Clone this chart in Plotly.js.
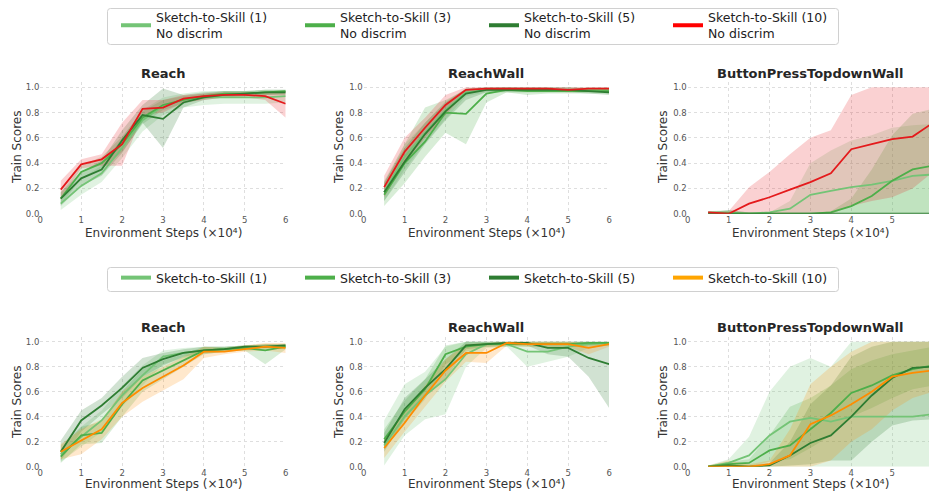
<!DOCTYPE html>
<html>
<head>
<meta charset="utf-8">
<script src="https://cdn.plot.ly/plotly-3.0.1.min.js"></script>
<style>html,body{margin:0;padding:0;background:#fff;}#chart{width:929px;height:491px;}</style>
</head>
<body>
<div id="chart"></div>
<script>
// ---------------- DATA ----------------
const steps = [0.5, 1, 1.5, 2, 2.5, 3, 3.5, 4, 4.5, 5, 5.5, 6];
const xTicks = [0, 1, 2, 3, 4, 5, 6];
const yTicks = [0.0, 0.2, 0.4, 0.6, 0.8, 1.0];
const panelTitles = ["Reach", "ReachWall", "ButtonPressTopdownWall", "Reach", "ReachWall", "ButtonPressTopdownWall"];
const topNames = ["Sketch-to-Skill (1)<br>No discrim", "Sketch-to-Skill (3)<br>No discrim", "Sketch-to-Skill (5)<br>No discrim", "Sketch-to-Skill (10)<br>No discrim"];
const bottomNames = ["Sketch-to-Skill (1)", "Sketch-to-Skill (3)", "Sketch-to-Skill (5)", "Sketch-to-Skill (10)"];
const xTitle = "Environment Steps (×10⁴)";
const yTitle = "Train Scores";

// Top row: Reach
const tReach_1    = [0.08,0.22,0.32,0.52,0.74,0.85,0.90,0.92,0.92,0.92,0.92,0.93];
const tReach_1_lo = [0.03,0.15,0.25,0.44,0.65,0.78,0.84,0.86,0.87,0.87,0.87,0.88];
const tReach_1_hi = [0.13,0.28,0.38,0.60,0.82,0.92,0.95,0.97,0.97,0.97,0.97,0.97];
const tReach_3    = [0.12,0.33,0.40,0.55,0.76,0.86,0.90,0.93,0.95,0.95,0.96,0.97];
const tReach_3_lo = [0.07,0.28,0.35,0.49,0.71,0.82,0.87,0.91,0.93,0.93,0.94,0.95];
const tReach_3_hi = [0.17,0.38,0.45,0.61,0.81,0.90,0.93,0.95,0.97,0.97,0.98,0.98];
const tReach_5    = [0.12,0.28,0.35,0.58,0.78,0.75,0.88,0.92,0.94,0.95,0.96,0.96];
const tReach_5_lo = [0.06,0.22,0.30,0.48,0.72,0.52,0.84,0.90,0.92,0.93,0.94,0.94];
const tReach_5_hi = [0.17,0.33,0.42,0.66,0.86,0.99,0.94,0.96,0.97,0.97,0.98,0.98];
const tReach_10    = [0.19,0.39,0.43,0.55,0.83,0.84,0.91,0.93,0.94,0.94,0.93,0.87];
const tReach_10_lo = [0.11,0.36,0.38,0.38,0.78,0.80,0.88,0.90,0.92,0.92,0.90,0.76];
const tReach_10_hi = [0.26,0.43,0.47,0.72,0.90,0.90,0.94,0.95,0.96,0.96,0.96,0.97];

// Top row: ReachWall
const tWall_1    = [0.17,0.45,0.64,0.82,0.96,0.98,0.98,0.98,0.98,0.98,0.98,0.98];
const tWall_1_lo = [0.10,0.35,0.56,0.75,0.93,0.96,0.96,0.96,0.96,0.96,0.96,0.96];
const tWall_1_hi = [0.26,0.55,0.72,0.89,0.99,1.00,1.00,1.00,1.00,1.00,1.00,1.00];
const tWall_3    = [0.15,0.40,0.57,0.80,0.79,0.95,0.98,0.97,0.97,0.97,0.97,0.97];
const tWall_3_lo = [0.06,0.24,0.45,0.64,0.55,0.88,0.96,0.94,0.95,0.95,0.95,0.95];
const tWall_3_hi = [0.24,0.55,0.84,0.90,0.98,0.99,1.00,0.99,0.99,0.99,0.99,0.99];
const tWall_5    = [0.17,0.41,0.63,0.81,0.95,0.98,0.98,0.98,0.98,0.98,0.97,0.96];
const tWall_5_lo = [0.10,0.32,0.55,0.74,0.90,0.96,0.96,0.96,0.96,0.96,0.95,0.94];
const tWall_5_hi = [0.25,0.52,0.72,0.88,0.99,1.00,1.00,1.00,1.00,1.00,0.99,0.98];
const tWall_10    = [0.21,0.49,0.68,0.86,0.98,0.99,0.99,0.99,0.99,0.98,0.99,0.99];
const tWall_10_lo = [0.13,0.40,0.60,0.78,0.96,0.97,0.97,0.97,0.97,0.96,0.97,0.97];
const tWall_10_hi = [0.30,0.60,0.76,0.94,1.00,1.00,1.00,1.00,1.00,1.00,1.00,1.00];

// Top row: ButtonPressTopdownWall
const tButton_1    = [0.01,0.01,0.00,0.01,0.04,0.15,0.18,0.21,0.23,0.26,0.30,0.31];
const tButton_1_lo = [0.00,0.00,0.00,0.00,0.00,0.00,0.00,0.00,0.00,0.00,0.00,0.00];
const tButton_1_hi = [0.02,0.03,0.01,0.01,0.10,0.40,0.50,0.58,0.62,0.68,0.70,0.71];
const tButton_3    = [0.00,0.00,0.00,0.00,0.00,0.00,0.01,0.06,0.14,0.26,0.35,0.38];
const tButton_3_lo = [0.00,0.00,0.00,0.00,0.00,0.00,0.00,0.00,0.00,0.00,0.00,0.00];
const tButton_3_hi = [0.01,0.01,0.00,0.00,0.00,0.00,0.02,0.12,0.35,0.62,0.79,0.83];
const tButton_5    = [0.00,0.00,0.00,0.00,0.00,0.00,0.00,0.00,0.00,0.00,0.00,0.00];
const tButton_5_lo = [0.00,0.00,0.00,0.00,0.00,0.00,0.00,0.00,0.00,0.00,0.00,0.00];
const tButton_5_hi = [0.01,0.03,0.01,0.00,0.00,0.00,0.00,0.00,0.00,0.00,0.00,0.00];
const tButton_10    = [0.01,0.00,0.08,0.13,0.19,0.25,0.32,0.51,0.55,0.59,0.61,0.72];
const tButton_10_lo = [0.00,0.00,0.00,0.00,0.00,0.00,0.00,0.06,0.10,0.13,0.20,0.33];
const tButton_10_hi = [0.02,0.02,0.21,0.33,0.47,0.60,0.66,0.94,1.00,1.00,1.00,1.00];

// Bottom row: Reach
const bReach_1    = [0.10,0.24,0.37,0.57,0.73,0.88,0.91,0.93,0.94,0.95,0.96,0.96];
const bReach_1_lo = [0.04,0.16,0.28,0.48,0.65,0.82,0.87,0.90,0.92,0.93,0.94,0.94];
const bReach_1_hi = [0.17,0.32,0.45,0.65,0.81,0.93,0.95,0.96,0.96,0.97,0.98,0.98];
const bReach_3    = [0.08,0.25,0.27,0.50,0.69,0.77,0.85,0.93,0.94,0.95,0.93,0.96];
const bReach_3_lo = [0.03,0.18,0.19,0.40,0.60,0.70,0.80,0.90,0.92,0.93,0.82,0.94];
const bReach_3_hi = [0.14,0.32,0.36,0.60,0.78,0.85,0.90,0.96,0.96,0.97,0.98,0.98];
const bReach_5    = [0.12,0.37,0.49,0.63,0.79,0.86,0.91,0.93,0.94,0.96,0.96,0.97];
const bReach_5_lo = [0.05,0.28,0.42,0.55,0.72,0.81,0.88,0.91,0.92,0.94,0.95,0.96];
const bReach_5_hi = [0.21,0.45,0.55,0.72,0.87,0.91,0.94,0.96,0.96,0.97,0.98,0.98];
const bReach_10    = [0.12,0.21,0.30,0.51,0.63,0.72,0.81,0.92,0.92,0.94,0.96,0.95];
const bReach_10_lo = [0.06,0.10,0.22,0.40,0.52,0.61,0.70,0.87,0.90,0.92,0.93,0.91];
const bReach_10_hi = [0.18,0.30,0.38,0.60,0.72,0.80,0.88,0.96,0.95,0.97,0.99,0.99];

// Bottom row: ReachWall
const bWall_1    = [0.17,0.40,0.57,0.70,0.90,0.98,0.98,0.92,0.92,0.96,0.98,0.99];
const bWall_1_lo = [0.01,0.25,0.38,0.42,0.80,0.95,0.96,0.80,0.84,0.88,0.95,0.97];
const bWall_1_hi = [0.37,0.66,0.76,0.96,1.00,1.00,1.00,1.00,1.00,1.00,1.00,1.00];
const bWall_3    = [0.22,0.44,0.62,0.90,0.96,0.98,0.98,0.98,0.98,0.98,0.99,0.99];
const bWall_3_lo = [0.14,0.35,0.54,0.82,0.92,0.96,0.96,0.96,0.96,0.96,0.97,0.97];
const bWall_3_hi = [0.30,0.53,0.70,0.97,1.00,1.00,1.00,1.00,1.00,1.00,1.00,1.00];
const bWall_5    = [0.19,0.46,0.63,0.78,0.97,0.98,0.99,0.99,0.95,0.95,0.87,0.82];
const bWall_5_lo = [0.12,0.38,0.56,0.70,0.94,0.96,0.97,0.97,0.90,0.88,0.72,0.47];
const bWall_5_hi = [0.27,0.55,0.70,0.86,1.00,1.00,1.00,1.00,1.00,1.00,1.00,1.00];
const bWall_10    = [0.15,0.35,0.57,0.77,0.91,0.91,0.99,0.98,0.98,0.98,0.95,0.98];
const bWall_10_lo = [0.07,0.28,0.48,0.68,0.84,0.83,0.97,0.96,0.96,0.96,0.90,0.96];
const bWall_10_hi = [0.22,0.43,0.65,0.86,0.98,0.99,1.00,1.00,1.00,1.00,0.99,1.00];

// Bottom row: ButtonPressTopdownWall
const bButton_1    = [0.00,0.03,0.09,0.25,0.36,0.39,0.36,0.40,0.40,0.40,0.40,0.42];
const bButton_1_lo = [0.00,0.00,0.00,0.00,0.00,0.00,0.00,0.00,0.00,0.00,0.00,0.00];
const bButton_1_hi = [0.01,0.06,0.24,0.60,0.80,0.87,0.80,1.00,1.00,1.00,1.00,1.00];
const bButton_3    = [0.00,0.02,0.03,0.13,0.17,0.30,0.43,0.59,0.65,0.73,0.78,0.81];
const bButton_3_lo = [0.00,0.00,0.00,0.04,0.06,0.15,0.25,0.40,0.47,0.55,0.62,0.65];
const bButton_3_hi = [0.01,0.04,0.06,0.25,0.48,0.55,0.65,0.78,0.85,0.90,0.93,0.96];
const bButton_5    = [0.00,0.01,0.00,0.01,0.09,0.19,0.25,0.40,0.57,0.71,0.79,0.80];
const bButton_5_lo = [0.00,0.00,0.00,0.00,0.01,0.02,0.05,0.05,0.20,0.33,0.37,0.38];
const bButton_5_hi = [0.01,0.02,0.01,0.03,0.20,0.50,0.65,0.88,0.96,1.00,1.00,1.00];
const bButton_10    = [0.00,0.00,0.00,0.02,0.09,0.34,0.41,0.50,0.60,0.72,0.75,0.77];
const bButton_10_lo = [0.00,0.00,0.00,0.00,0.00,0.00,0.05,0.20,0.30,0.45,0.55,0.60];
const bButton_10_hi = [0.01,0.05,0.02,0.05,0.30,0.66,0.80,0.92,1.00,1.00,1.00,1.00];

// ---------------- STYLE / BUILD ----------------
const W = 929, H = 491;
const lineColors = ["#74c476", "#4daf4a", "#2e7d32"];
const bandColors = ["rgba(116,196,118,0.22)", "rgba(77,175,74,0.22)", "rgba(46,125,50,0.22)"];
const topLast = {line: "#e41a1c", band: "rgba(228,26,28,0.2)", legend: "#ff0000"};
const botLast = {line: "#ff8c00", band: "rgba(255,140,0,0.2)", legend: "#ffa500"};

const panels = [
  {xa: "x",  ya: "y",  row: 0, series: [[tReach_1,tReach_1_lo,tReach_1_hi],[tReach_3,tReach_3_lo,tReach_3_hi],[tReach_5,tReach_5_lo,tReach_5_hi],[tReach_10,tReach_10_lo,tReach_10_hi]]},
  {xa: "x2", ya: "y2", row: 0, series: [[tWall_1,tWall_1_lo,tWall_1_hi],[tWall_3,tWall_3_lo,tWall_3_hi],[tWall_5,tWall_5_lo,tWall_5_hi],[tWall_10,tWall_10_lo,tWall_10_hi]]},
  {xa: "x3", ya: "y3", row: 0, series: [[tButton_1,tButton_1_lo,tButton_1_hi],[tButton_3,tButton_3_lo,tButton_3_hi],[tButton_5,tButton_5_lo,tButton_5_hi],[tButton_10,tButton_10_lo,tButton_10_hi]]},
  {xa: "x4", ya: "y4", row: 1, series: [[bReach_1,bReach_1_lo,bReach_1_hi],[bReach_3,bReach_3_lo,bReach_3_hi],[bReach_5,bReach_5_lo,bReach_5_hi],[bReach_10,bReach_10_lo,bReach_10_hi]]},
  {xa: "x5", ya: "y5", row: 1, series: [[bWall_1,bWall_1_lo,bWall_1_hi],[bWall_3,bWall_3_lo,bWall_3_hi],[bWall_5,bWall_5_lo,bWall_5_hi],[bWall_10,bWall_10_lo,bWall_10_hi]]},
  {xa: "x6", ya: "y6", row: 1, series: [[bButton_1,bButton_1_lo,bButton_1_hi],[bButton_3,bButton_3_lo,bButton_3_hi],[bButton_5,bButton_5_lo,bButton_5_hi],[bButton_10,bButton_10_lo,bButton_10_hi]]}
];

const traces = [];
panels.forEach(p => {
  const last = p.row === 0 ? topLast : botLast;
  p.series.forEach((s, i) => {
    const band = i < 3 ? bandColors[i] : last.band;
    traces.push({x: steps, y: s[1], xaxis: p.xa, yaxis: p.ya, mode: "lines", line: {width: 0, color: band}, showlegend: false, hoverinfo: "skip"});
    traces.push({x: steps, y: s[2], xaxis: p.xa, yaxis: p.ya, mode: "lines", line: {width: 0, color: band}, fill: "tonexty", fillcolor: band, showlegend: false, hoverinfo: "skip"});
  });
  p.series.forEach((s, i) => {
    const col = i < 3 ? lineColors[i] : last.line;
    traces.push({x: steps, y: s[0], xaxis: p.xa, yaxis: p.ya, mode: "lines", line: {width: 1.8, color: col}, showlegend: false});
  });
});
// legend entries
topNames.forEach((n, i) => {
  traces.push({x: [null], y: [null], xaxis: "x", yaxis: "y", mode: "lines", name: n, legend: "legend",
    line: {width: 4, color: i < 3 ? lineColors[i] : topLast.legend}, hoverinfo: "skip"});
});
bottomNames.forEach((n, i) => {
  traces.push({x: [null], y: [null], xaxis: "x4", yaxis: "y4", mode: "lines", name: n, legend: "legend2",
    line: {width: 4, color: i < 3 ? lineColors[i] : botLast.legend}, hoverinfo: "skip"});
});

// geometry (pixels)
const colX0 = [40.3, 363.7, 687.7];
const pxPerUnit = 40.9;
const rowY = [{zero: 213.7, one: 87.3}, {zero: 466.7, one: 341.7}];
const yMax = 1.04;

function roundRectPath(x0, y0, x1, y1, r) {
  const fx = v => (v / W).toFixed(5), fy = v => (1 - v / H).toFixed(5);
  return "M" + fx(x0 + r) + "," + fy(y0) +
    " L" + fx(x1 - r) + "," + fy(y0) + " Q" + fx(x1) + "," + fy(y0) + " " + fx(x1) + "," + fy(y0 + r) +
    " L" + fx(x1) + "," + fy(y1 - r) + " Q" + fx(x1) + "," + fy(y1) + " " + fx(x1 - r) + "," + fy(y1) +
    " L" + fx(x0 + r) + "," + fy(y1) + " Q" + fx(x0) + "," + fy(y1) + " " + fx(x0) + "," + fy(y1 - r) +
    " L" + fx(x0) + "," + fy(y0 + r) + " Q" + fx(x0) + "," + fy(y0) + " " + fx(x0 + r) + "," + fy(y0) + " Z";
}

const font = "DejaVu Sans, Liberation Sans, sans-serif";
const legendCommon = {orientation: "h", xanchor: "left", yanchor: "top", traceorder: "normal",
  borderwidth: 0, bgcolor: "rgba(0,0,0,0)",
  font: {family: font, size: 12.5, color: "#222"}, entrywidth: 139, entrywidthmode: "pixels"};
const layout = {
  width: W, height: H,
  margin: {l: 0, r: 0, t: 0, b: 0},
  paper_bgcolor: "#fff", plot_bgcolor: "#fff",
  font: {family: font, color: "#333"},
  showlegend: true,
  legend: Object.assign({}, legendCommon, {x: 116 / W, y: 1 - 2.5 / H}),
  legend2: Object.assign({}, legendCommon, {x: 116 / W, y: 1 - 263 / H}),
  shapes: [
    {type: "path", xref: "paper", yref: "paper", path: roundRectPath(107.5, 8.5, 838.5, 44.5, 3), line: {color: "#d0d0d0", width: 1}, layer: "below"},
    {type: "path", xref: "paper", yref: "paper", path: roundRectPath(107.5, 267.5, 838.5, 291.5, 3), line: {color: "#d0d0d0", width: 1}, layer: "below"}
  ],
  annotations: [],
  hovermode: false
};

const axisCommon = {
  showline: false, zeroline: false, ticks: "",
  gridcolor: "#dedede", griddash: "dot", gridwidth: 1,
  tickfont: {family: font, size: 8.5, color: "#555"}
};

panels.forEach((p, k) => {
  const col = k % 3, row = p.row;
  const x0 = colX0[col];
  const xEnd = Math.min(x0 + 6 * pxPerUnit, W);
  const xMaxVal = (xEnd - x0) / pxPerUnit;
  const r = rowY[row];
  const unit = r.zero - r.one;
  const yTopPx = r.zero - yMax * unit;
  const xName = "xaxis" + (k === 0 ? "" : k + 1);
  const yName = "yaxis" + (k === 0 ? "" : k + 1);
  layout[xName] = Object.assign({}, axisCommon, {
    domain: [x0 / W, xEnd / W], range: [0, xMaxVal], anchor: p.ya,
    tickmode: "array", tickvals: xTicks, ticktext: xTicks.map(String)
  });
  layout[yName] = Object.assign({}, axisCommon, {
    domain: [(H - r.zero) / H, (H - yTopPx) / H], range: [0, yMax], anchor: p.xa,
    tickmode: "array", tickvals: yTicks, ticktext: yTicks.map(v => v.toFixed(1))
  });
  const centerX = x0 + 3 * pxPerUnit;
  layout.annotations.push({text: "<b>" + panelTitles[k] + "</b>", xref: "paper", yref: "paper",
    x: centerX / W, y: 1 - (row === 0 ? 74 : 327.5) / H, xanchor: "center", yanchor: "middle",
    showarrow: false, font: {family: font, size: 13, color: "#262626"}});
  layout.annotations.push({text: xTitle, xref: "paper", yref: "paper",
    x: centerX / W, y: 1 - (row === 0 ? 232.5 : 484) / H, xanchor: "center", yanchor: "middle",
    showarrow: false, font: {family: font, size: 12, color: "#333"}});
  const yTitleX = [17, 339, 663][col];
  layout.annotations.push({text: yTitle, xref: "paper", yref: "paper", textangle: -90,
    x: yTitleX / W, y: 1 - (row === 0 ? 148 : 403) / H, xanchor: "center", yanchor: "middle",
    showarrow: false, font: {family: font, size: 12, color: "#333"}});
});

Plotly.newPlot("chart", traces, layout, {displayModeBar: false, staticPlot: true});
</script>
</body>
</html>
